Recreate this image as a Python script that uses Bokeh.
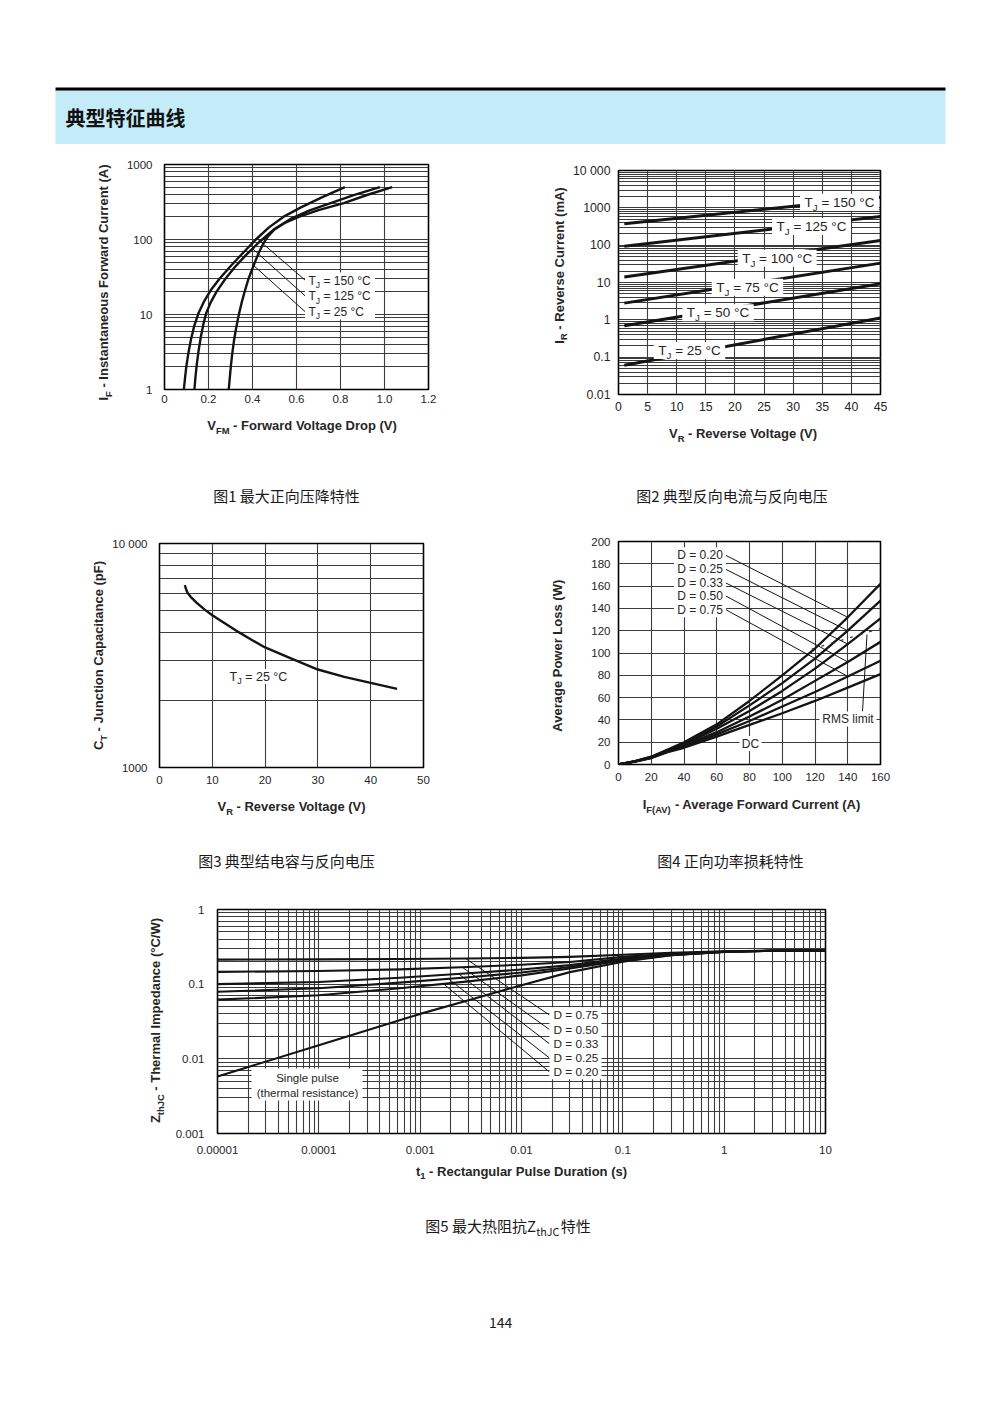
import math
import numpy as np
from bokeh.plotting import figure
from bokeh.models import Label, FixedTicker, Range1d, CustomJSTickFormatter
from bokeh.core.properties import value
from bokeh.layouts import column, row
from bokeh.embed import file_html
from bokeh.resources import INLINE

FONT = "Liberation Sans"
CJK = "Noto Sans CJK SC"
INK = "#141414"
TXT = "#262626"
GRID = "#3c3c3c"

# ---------------- values ----------------
# Fig.1  I_F (A) vs V_FM (V)
f1_vf_150 = [0.088, 0.093, 0.099, 0.108, 0.120, 0.135, 0.155, 0.180, 0.210, 0.250, 0.300, 0.350, 0.415, 0.475, 0.540, 0.620, 0.720, 0.820]
f1_if_150 = [1, 1.4, 2.0, 3.0, 4.6, 7.0, 10.5, 15, 21, 30, 44, 63, 100, 145, 200, 268, 370, 498]
f1_vf_125 = [0.136, 0.141, 0.147, 0.155, 0.165, 0.177, 0.190, 0.210, 0.236, 0.277, 0.320, 0.370, 0.430, 0.500, 0.573, 0.660, 0.755, 0.860, 0.979]
f1_if_125 = [1, 1.5, 2.2, 3.3, 5.0, 7.5, 10.5, 14.5, 20, 30, 43, 62, 92, 138, 188, 245, 305, 390, 498]
f1_vf_25 = [0.292, 0.297, 0.302, 0.308, 0.316, 0.326, 0.338, 0.351, 0.364, 0.382, 0.405, 0.426, 0.447, 0.467, 0.500, 0.550, 0.610, 0.700, 0.815, 0.920, 1.035]
f1_if_25 = [1, 1.45, 2.1, 3.0, 4.5, 6.7, 10, 14.5, 20, 30, 45, 64, 86, 107, 136, 168, 200, 247, 305, 392, 498]
f1_temps = ["150", "125", "25"]
f1_leader_v = [0.42, 0.40, 0.405]
f1_xticks = [0, 0.2, 0.4, 0.6, 0.8, 1.0, 1.2]
f1_xlabels = ["0", "0.2", "0.4", "0.6", "0.8", "1.0", "1.2"]
f1_yticks = [1, 10, 100, 1000]
f1_ylabels = ["1", "10", "100", "1000"]

# Fig.2  I_R (mA) vs V_R (V)
f2_vr = [1, 45]
f2_ir_150 = [373, 1930]
f2_ir_125 = [94, 586]
f2_ir_100 = [14, 134]
f2_ir_75 = [2.8, 33]
f2_ir_50 = [0.69, 9.3]
f2_ir_25 = [0.061, 1.12]
f2_temps = ["150", "125", "100", "75", "50", "25"]
f2_xticks = [0, 5, 10, 15, 20, 25, 30, 35, 40, 45]
f2_xlabels = ["0", "5", "10", "15", "20", "25", "30", "35", "40", "45"]
f2_yticks = [0.01, 0.1, 1, 10, 100, 1000, 10000]
f2_ylabels = ["0.01", "0.1", "1", "10", "100", "1000", "10 000"]

# Fig.3  C_T (pF) vs V_R (V)
f3_vr = [4.8, 5.0, 5.3, 5.9, 7.0, 8.5, 10, 12.5, 15, 17.5, 20, 25, 30, 35, 40, 45]
f3_ct = [6520, 6280, 6030, 5780, 5450, 5080, 4785, 4380, 4020, 3710, 3436, 3060, 2738, 2540, 2387, 2245]
f3_xticks = [0, 10, 20, 30, 40, 50]
f3_xlabels = ["0", "10", "20", "30", "40", "50"]
f3_yticks = [1000, 10000]
f3_ylabels = ["1000", "10 000"]

# Fig.4  average power loss (W) vs I_F(AV) (A)
f4_if = [0, 10, 20, 30, 40, 50, 60, 80, 100, 120, 140, 160]
f4_p_d020 = [0, 3.0, 7.0, 13.5, 20, 28, 36, 57, 80, 104, 132, 162]
f4_p_d025 = [0, 2.9, 6.8, 13.0, 19, 26.5, 34, 53, 73, 95, 120, 147]
f4_p_d033 = [0, 2.8, 6.5, 12.5, 18, 25, 32, 48, 66, 86, 108, 131]
f4_p_d050 = [0, 2.7, 6.2, 12.0, 17, 23, 29, 43, 58, 75, 92, 110]
f4_p_d075 = [0, 2.6, 6.0, 11.5, 16, 21.5, 27, 39, 52, 65, 79, 93]
f4_p_dc = [0, 2.5, 5.8, 11.0, 15, 20, 25, 35.5, 46, 57, 69, 81]
f4_duty = ["0.20", "0.25", "0.33", "0.50", "0.75"]
f4_rms_if = [118, 160]
f4_rms_p = [103.5, 122]
f4_leader_if = 140
f4_ticks = [0, 20, 40, 60, 80, 100, 120, 140, 160]
f4_yticks = [0, 20, 40, 60, 80, 100, 120, 140, 160, 180, 200]

# Fig.5  Z_thJC (degC/W) vs t1 (s)
f5_t = [1e-5, 1e-4, 6.3e-4, 3e-3, 0.01, 0.03, 0.1, 0.3, 1, 3, 10]
f5_z_d075 = [0.213, 0.215, 0.217, 0.221, 0.225, 0.232, 0.248, 0.263, 0.276, 0.281, 0.283]
f5_z_d050 = [0.146, 0.150, 0.158, 0.170, 0.182, 0.198, 0.232, 0.256, 0.274, 0.281, 0.283]
f5_z_d033 = [0.100, 0.107, 0.122, 0.140, 0.157, 0.180, 0.220, 0.250, 0.272, 0.280, 0.283]
f5_z_d025 = [0.079, 0.088, 0.105, 0.124, 0.143, 0.170, 0.213, 0.247, 0.271, 0.280, 0.283]
f5_z_d020 = [0.062, 0.071, 0.088, 0.109, 0.131, 0.162, 0.208, 0.244, 0.270, 0.280, 0.283]
f5_t_sp = [1e-5, 1e-4, 1e-3, 3e-3, 0.01, 0.03, 0.1, 0.3, 1, 3, 10]
f5_z_sp = [0.0058, 0.0152, 0.040, 0.061, 0.097, 0.145, 0.200, 0.245, 0.272, 0.280, 0.283]
f5_duty = ["0.75", "0.50", "0.33", "0.25", "0.20"]
f5_leader_t = [0.0028, 0.0026, 0.0024, 0.0019, 0.0017]
f5_xticks = [1e-5, 1e-4, 1e-3, 1e-2, 0.1, 1, 10]
f5_xlabels = ["0.00001", "0.0001", "0.001", "0.01", "0.1", "1", "10"]
f5_yticks = [0.001, 0.01, 0.1, 1]
f5_ylabels = ["0.001", "0.01", "0.1", "1"]

page_title = "典型特征曲线"
captions = ["图1 最大正向压降特性", "图2 典型反向电流与反向电压",
            "图3 典型结电容与反向电压", "图4 正向功率损耗特性"]
page_number = "144"

# ---------------- text metrics ----------------
_U = "ABCDEFGHIJKLMNOPQRSTUVWXYZ"
_L = "abcdefghijklmnopqrstuvwxyz"
HR = dict(zip(_U, [667, 667, 722, 722, 667, 611, 778, 722, 278, 500, 667, 556, 833, 722, 778, 667, 778, 722, 667, 611, 722, 667, 944, 667, 667, 611]))
HR.update(zip(_L, [556, 556, 500, 556, 556, 278, 556, 556, 222, 222, 500, 222, 833, 556, 556, 556, 556, 333, 500, 278, 556, 500, 722, 500, 500, 500]))
HB = dict(zip(_U, [722, 722, 722, 722, 667, 611, 778, 722, 278, 556, 722, 611, 833, 722, 778, 667, 778, 722, 667, 611, 722, 667, 944, 667, 667, 611]))
HB.update(zip(_L, [556, 611, 556, 611, 556, 333, 611, 611, 278, 278, 556, 278, 889, 611, 611, 611, 611, 389, 556, 333, 611, 556, 778, 556, 556, 500]))
for d in (HR, HB):
    d.update({" ": 278, ".": 278, "-": 333, "=": 584, "(": 333, ")": 333, "/": 278, "°": 400})
    d.update({c: 556 for c in "0123456789"})


def tw(s, size, bold=False, cjk=False):
    tot = 0.0
    for ch in s:
        if ord(ch) >= 0x2E80:
            tot += 1000
        elif cjk:
            tot += 553 if ch.isdigit() else 224 if ch == " " else 620 if ch.isupper() else 520
        else:
            tot += (HB if bold else HR).get(ch, 556)
    return tot * size / 1000.0


SUB = 0.72


def layout_parts(parts, size, bold, cjk, anchor):
    """(text, font_size, advance along the line, shift across it) for each piece;
    pieces are drawn with a 'middle' baseline, subscripts dropped below."""
    ws = [tw(t, size * (SUB if s else 1), bold, cjk) for t, s in parts]
    total = sum(ws)
    pos = {"center": -total / 2, "left": 0.0, "right": -total}[anchor]
    out = []
    for (t, s), w in zip(parts, ws):
        fs = size * (SUB if s else 1)
        lead = len(t) - len(t.lstrip(" "))
        adv = tw(" " * lead, fs, bold, cjk)
        shift = 0.37 * size if s else 0.0
        out.append((t.strip(" "), fs, pos + adv, shift))
        pos += w
    return out


class Frame:
    def __init__(s, px0, px1, py0, py1, x0, x1, y0, y1, xlog, ylog):
        s.px0, s.px1, s.py0, s.py1 = px0, px1, py0, py1
        s.x0, s.x1, s.y0, s.y1 = x0, x1, y0, y1
        s.xlog, s.ylog = xlog, ylog

    def X(s, px):
        t = (px - s.px0) / (s.px1 - s.px0)
        if s.xlog:
            a, b = math.log10(s.x0), math.log10(s.x1)
            return 10 ** (a + t * (b - a))
        return s.x0 + t * (s.x1 - s.x0)

    def Y(s, py):
        t = (s.py1 - py) / (s.py1 - s.py0)
        if s.ylog:
            a, b = math.log10(s.y0), math.log10(s.y1)
            return 10 ** (a + t * (b - a))
        return s.y0 + t * (s.y1 - s.y0)


FMT = """
for (let i = 0; i < vals.length; i++) {
  if (Math.abs(vals[i] - tick) <= 1e-9 * Math.abs(vals[i]) + 1e-15) { return labs[i]; }
}
return "";
"""


def minors(decades):
    return [k * 10 ** d for d in decades for k in range(2, 10)]


def chartfig(F, fx, fy, fw, fh, xt, xmin, xlab, yt, ymin, ylab, xs, ys, tick_size="11.5px"):
    p = figure(width=fw, height=fh,
               x_range=Range1d(F.x0, F.x1), y_range=Range1d(F.y0, F.y1),
               x_axis_type="log" if F.xlog else "linear",
               y_axis_type="log" if F.ylog else "linear",
               output_backend="svg", toolbar_location=None, frame_align=False,
               min_border_left=F.px0 - fx, min_border_right=fx + fw - F.px1,
               min_border_top=F.py0 - fy, min_border_bottom=fy + fh - F.py1)
    p.outline_line_color = "#000000"
    p.outline_line_width = 1.6
    p.background_fill_color = "white"
    p.border_fill_color = "white"
    for ax, t, m, lab, s in ((p.xaxis[0], xt, xmin, xlab, xs), (p.yaxis[0], yt, ymin, ylab, ys)):
        ax.ticker = FixedTicker(ticks=list(t), minor_ticks=list(m))
        ax.formatter = CustomJSTickFormatter(args=dict(vals=list(t), labs=list(lab)), code=FMT)
        ax.axis_line_color = None
        ax.major_tick_line_color = None
        ax.minor_tick_line_color = None
        ax.major_tick_out = 0
        ax.major_tick_in = 0
        ax.major_label_standoff = s
        ax.major_label_text_font = FONT
        ax.major_label_text_font_size = tick_size
        ax.major_label_text_color = TXT
    for g in (p.xgrid[0], p.ygrid[0]):
        g.grid_line_color = GRID
        g.grid_line_width = 1.1
        g.minor_grid_line_color = GRID
        g.minor_grid_line_width = 1.1
    return p


def textfig(x0, y0, w, h):
    """a blank figure whose data units are page pixels (y grows downward)"""
    p = figure(width=w, height=h, x_range=Range1d(x0, x0 + w), y_range=Range1d(y0 + h, y0),
               output_backend="svg", toolbar_location=None, frame_align=False,
               min_border=0, min_border_left=0, min_border_right=0,
               min_border_top=0, min_border_bottom=0,
               x_axis_location=None, y_axis_location=None)
    p.outline_line_color = None
    p.grid.visible = False
    p.background_fill_color = "white"
    p.border_fill_color = "white"
    return p


def ptext(p, x, y, parts, size, bold=False, angle=0.0, anchor="center",
          font=FONT, color=TXT, cjk=False):
    for t, fs, a, sh in layout_parts(parts, size, bold, cjk, anchor):
        if angle == 0:
            px_, py_ = x + a, y + sh
        else:
            px_, py_ = x + sh, y - a
        p.text(x=[px_], y=[py_], text=[t], angle=angle,
               text_align="left", text_baseline="middle",
               text_font=value(font), text_font_size=value(f"{fs:.1f}px"),
               text_font_style="bold" if bold else "normal", text_color=color)


def rich(p, F, px, py, parts, size, anchor="center"):
    """label inside a chart frame, placed by page pixel position"""
    x, y = F.X(px), F.Y(py)
    for t, fs, a, sh in layout_parts(parts, size, False, False, anchor):
        p.add_layout(Label(x=x, y=y, x_offset=a, y_offset=-sh, text=t,
                           text_align="left", text_baseline="middle",
                           text_font=FONT, text_font_size=f"{fs:.1f}px",
                           text_color=TXT))


def box(p, F, px, py, w, h):
    p.rect(x=[F.X(px)], y=[F.Y(py)], width=w, height=h,
           width_units="screen", height_units="screen",
           fill_color="white", line_color=None)


def tj(temp):
    return [("T", 0), ("J", 1), (f" = {temp} °C", 0)]


def loginterp(x, xs, ys, logx=False):
    xv = np.log10(xs) if logx else np.asarray(xs, float)
    xq = math.log10(x) if logx else x
    return float(10 ** np.interp(xq, xv, np.log10(ys)))


AX = 13      # axis title size
CAP = 15     # caption size
VERT = math.pi / 2

# ---------------- header ----------------
head = textfig(0, 0, 992, 150)
head.quad(left=[55], right=[945], top=[87], bottom=[90.2], fill_color="#000000", line_color=None)
head.quad(left=[55], right=[945], top=[90.2], bottom=[143.5], fill_color="#c4ebf8", line_color=None)
ptext(head, 65, 116.5, [(page_title, 0)], 20, bold=True, anchor="left", font=CJK, color="#111111", cjk=True)

# ---------------- Fig.1 ----------------
F1 = Frame(164, 428, 164, 389, 0, 1.2, 1, 1000, False, True)
p1 = chartfig(F1, 116, 150, 384, 265, f1_xticks, [], f1_xlabels,
              f1_yticks, minors([0, 1, 2]), f1_ylabels, 5, 8)
curves1 = [(f1_vf_150, f1_if_150), (f1_vf_125, f1_if_125), (f1_vf_25, f1_if_25)]
for v, i in curves1:
    p1.line(v, i, line_width=2.4, line_color=INK, line_join="round")
f1_lab_py = [280, 295.7, 311.5]
for (v, i), lv, py in zip(curves1, f1_leader_v, f1_lab_py):
    p1.line([F1.X(305), lv], [F1.Y(py), loginterp(lv, v, i)], line_width=1.0, line_color=INK)
box(p1, F1, 339.5, 295.5, 70, 47)
for t, py in zip(f1_temps, f1_lab_py):
    rich(p1, F1, 308, py, tj(t), 12, anchor="left")
yt1 = textfig(0, 150, 116, 265)
ptext(yt1, 103, 282, [("I", 0), ("F", 1), (" - Instantaneous Forward Current (A)", 0)], AX,
      bold=True, angle=VERT)

# ---------------- Fig.2 ----------------
F2 = Frame(618, 880, 170, 394, 0, 45, 0.01, 10000, False, True)
p2 = chartfig(F2, 568, 150, 424, 265, f2_xticks, [], f2_xlabels,
              f2_yticks, minors([-2, -1, 0, 1, 2, 3]), f2_ylabels, 7, 4, tick_size="12.3px")
for ir in (f2_ir_150, f2_ir_125, f2_ir_100, f2_ir_75, f2_ir_50, f2_ir_25):
    p2.line(f2_vr, ir, line_width=3.0, line_color=INK)
f2_lab_px = [839, 811, 776.7, 747, 717.5, 689]
f2_lab_py = [201.7, 226, 257.7, 286.7, 312.3, 350]
for t, px, py in zip(f2_temps, f2_lab_px, f2_lab_py):
    w = sum(tw(s, 13.5 * (SUB if b else 1)) for s, b in tj(t))
    box(p2, F2, px, py, w + 9, 17)
for t, px, py in zip(f2_temps, f2_lab_px, f2_lab_py):
    rich(p2, F2, px, py, tj(t), 13.5)
yt2 = textfig(500, 150, 68, 265)
ptext(yt2, 558.5, 265, [("I", 0), ("R", 1), (" - Reverse Current (mA)", 0)], AX,
      bold=True, angle=VERT)

strip1 = textfig(0, 415, 992, 115)
ptext(strip1, 302, 425, [("V", 0), ("FM", 1), (" - Forward Voltage Drop (V)", 0)], AX, bold=True)
ptext(strip1, 743, 433, [("V", 0), ("R", 1), (" - Reverse Voltage (V)", 0)], AX, bold=True)
ptext(strip1, 286, 495, [(captions[0], 0)], CAP, font=CJK, color="#1a1a1a", cjk=True)
ptext(strip1, 731.5, 495, [(captions[1], 0)], CAP, font=CJK, color="#1a1a1a", cjk=True)

# ---------------- Fig.3 ----------------
F3 = Frame(159, 423, 543, 767, 0, 50, 1000, 10000, False, True)
p3 = chartfig(F3, 108, 530, 392, 262, f3_xticks, [], f3_xlabels,
              f3_yticks, minors([3]), f3_ylabels, 8, 8)
p3.line(f3_vr, f3_ct, line_width=2.4, line_color=INK, line_join="round")
box(p3, F3, 258, 676, 64, 15)
rich(p3, F3, 258, 676, tj("25"), 12.5)
yt3 = textfig(0, 530, 108, 262)
ptext(yt3, 98, 655, [("C", 0), ("T", 1), (" - Junction Capacitance (pF)", 0)], AX,
      bold=True, angle=VERT)

# ---------------- Fig.4 ----------------
F4 = Frame(618, 880, 541, 764, 0, 160, 0, 200, False, False)
p4 = chartfig(F4, 573, 530, 419, 262, f4_ticks, [], [str(v) for v in f4_ticks],
              f4_yticks, [], [str(v) for v in f4_yticks], 8, 8)
curves4 = [f4_p_d020, f4_p_d025, f4_p_d033, f4_p_d050, f4_p_d075, f4_p_dc]
for pv in curves4:
    p4.line(f4_if, pv, line_width=2.3, line_color=INK, line_join="round")
p4.line(f4_rms_if, f4_rms_p, line_width=1.2, line_color="#333333", line_dash="3 7")
f4_lab_py = [554.7, 568.7, 582.3, 595.3, 609]
for pv, py in zip(curves4[:5], f4_lab_py):
    p4.line([F4.X(725), f4_leader_if], [F4.Y(py), float(np.interp(f4_leader_if, f4_if, pv))],
            line_width=1.0, line_color=INK)
p4.line([F4.X(862), F4.X(866.5)], [F4.Y(711), F4.Y(634)], line_width=1.0, line_color=INK)
box(p4, F4, 699.5, 581.8, 52, 70)
box(p4, F4, 847.5, 718.5, 57, 15)
box(p4, F4, 750, 743, 22, 15)
for d, py in zip(f4_duty, f4_lab_py):
    rich(p4, F4, 676.7, py, [(f"D = {d}", 0)], 12, anchor="left")
rich(p4, F4, 847.5, 718.5, [("RMS limit", 0)], 12)
rich(p4, F4, 750, 743, [("DC", 0)], 12)
yt4 = textfig(500, 530, 73, 262)
ptext(yt4, 557, 655, [("Average Power Loss (W)", 0)], AX, bold=True, angle=VERT)

strip2 = textfig(0, 792, 992, 88)
ptext(strip2, 291.5, 806, [("V", 0), ("R", 1), (" - Reverse Voltage (V)", 0)], AX, bold=True)
ptext(strip2, 751.5, 804, [("I", 0), ("F(AV)", 1), (" - Average Forward Current (A)", 0)], AX, bold=True)
ptext(strip2, 286, 860, [(captions[2], 0)], CAP, font=CJK, color="#1a1a1a", cjk=True)
ptext(strip2, 730, 860, [(captions[3], 0)], CAP, font=CJK, color="#1a1a1a", cjk=True)

# ---------------- Fig.5 ----------------
F5 = Frame(217, 825, 909, 1133, 1e-5, 10, 0.001, 1, True, True)
p5 = chartfig(F5, 168, 880, 824, 278, f5_xticks, minors([-5, -4, -3, -2, -1, 0]), f5_xlabels,
              f5_yticks, minors([-3, -2, -1]), f5_ylabels, 8, 9)
curves5 = [f5_z_d075, f5_z_d050, f5_z_d033, f5_z_d025, f5_z_d020]
for z in curves5:
    p5.line(f5_t, z, line_width=2.1, line_color=INK, line_join="round")
p5.line(f5_t_sp, f5_z_sp, line_width=2.1, line_color=INK, line_join="round")
f5_lab_py = [1014.5, 1029, 1043.3, 1057.5, 1071.5]
for z, lt, py in zip(curves5, f5_leader_t, f5_lab_py):
    p5.line([F5.X(549), lt], [F5.Y(py), loginterp(lt, f5_t, z, logx=True)],
            line_width=1.0, line_color=INK)
box(p5, F5, 575, 1042.8, 52, 72)
for d, py in zip(f5_duty, f5_lab_py):
    rich(p5, F5, 553, py, [(f"D = {d}", 0)], 11.8, anchor="left")
box(p5, F5, 306.5, 1084, 111, 32)
rich(p5, F5, 307, 1077, [("Single pulse", 0)], 11.5)
rich(p5, F5, 307, 1092, [("(thermal resistance)", 0)], 11.5)
yt5 = textfig(0, 880, 168, 278)
ptext(yt5, 155, 1020, [("Z", 0), ("thJC", 1), (" - Thermal Impedance (°C/W)", 0)], AX,
      bold=True, angle=VERT)

strip3 = textfig(0, 1158, 992, 192)
ptext(strip3, 521, 1171, [("t", 0), ("1", 1), (" - Rectangular Pulse Duration (s)", 0)], AX, bold=True)
ptext(strip3, 507.5, 1225, [("图5 最大热阻抗Z", 0), ("thJC", 1), ("特性", 0)], CAP,
      font=CJK, color="#1a1a1a", cjk=True)
ptext(strip3, 500, 1322, [(page_number, 0)], 14, font=CJK, color="#1a1a1a", cjk=True)

layout = column(head,
                row(yt1, p1, yt2, p2), strip1,
                row(yt3, p3, yt4, p4), strip2,
                row(yt5, p5), strip3)
open("out.html", "w").write(file_html(layout, INLINE))
